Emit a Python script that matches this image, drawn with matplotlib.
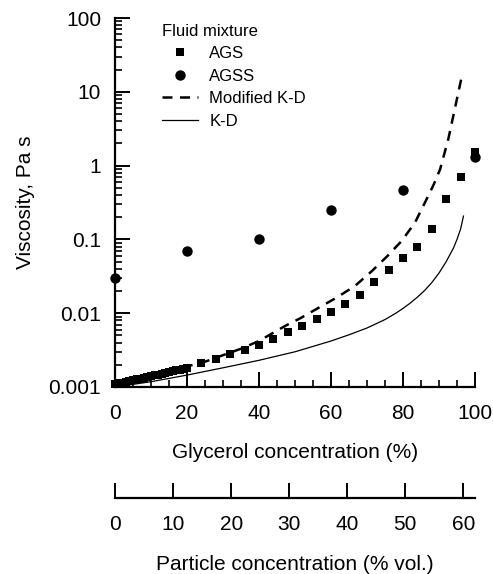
import numpy as np
import matplotlib
matplotlib.use("Agg")
import matplotlib.pyplot as plt
from matplotlib.ticker import MultipleLocator, LogLocator, NullFormatter, FixedFormatter, FixedLocator

plt.rcParams["font.family"] = ["Liberation Sans", "DejaVu Sans"]

# AGS (squares)
ags_x = list(range(0, 21)) + [24, 28, 32, 36, 40, 44, 48, 52, 56, 60, 64, 68, 72, 76, 80, 84, 88, 92, 96, 100]
ags_y = [0.00110, 0.00113, 0.00115, 0.00118, 0.00121, 0.00124, 0.00127, 0.00130, 0.00133, 0.00137,
         0.00140, 0.00144, 0.00147, 0.00151, 0.00155, 0.00159, 0.00163, 0.00168, 0.00172, 0.00177,
         0.00182,
         0.00212, 0.00240, 0.00277, 0.00318, 0.0037, 0.0045, 0.0055, 0.0067, 0.0084, 0.0105,
         0.0132, 0.0177, 0.0265, 0.0385, 0.0565, 0.079, 0.137, 0.355, 0.70, 1.55]

# AGSS (circles)
agss_x = [0, 20, 40, 60, 80, 100]
agss_y = [0.030, 0.069, 0.100, 0.249, 0.474, 1.29]

# Modified K-D (dashed)
mkd_x = [0, 10, 20, 25, 30, 35, 40, 43, 47.7, 51.4, 56.9, 61.6, 66.7, 71.3, 75.6, 79.6, 83.3,
         86.1, 88.5, 90.3, 92.6, 94.4, 96.3]
mkd_y = [0.00108, 0.0014, 0.0019, 0.0022, 0.0027, 0.0033, 0.0042, 0.0051, 0.0069, 0.0085, 0.0121,
         0.0163, 0.0235, 0.037, 0.059, 0.095, 0.168, 0.316, 0.55, 0.89, 2.3, 5.9, 15.9]

# K-D (solid)
kd_x = [0, 10, 20, 30, 40, 50, 60, 65, 70, 75, 78, 80, 82, 84, 86, 88, 90, 92, 94, 95, 96, 96.8]
kd_y = [0.0010, 0.00118, 0.00145, 0.00182, 0.0023, 0.0030, 0.0042, 0.0051, 0.0063, 0.0082,
        0.0100, 0.0116, 0.0137, 0.0165, 0.0203, 0.026, 0.035, 0.050, 0.076, 0.100, 0.138, 0.207]

gly_ticks = [0, 20, 40, 60, 80, 100]
part_ticks = [0, 10, 20, 30, 40, 50, 60]
y_ticks = [0.001, 0.01, 0.1, 1, 10, 100]
y_labels = ["0.001", "0.01", "0.1", "1", "10", "100"]

W, H = 493, 574
fig = plt.figure(figsize=(W / 100, H / 100), dpi=100)
ax = fig.add_axes([115 / W, 1 - 387 / H, 360 / W, 369 / H])

ax.plot(ags_x, ags_y, "s", color="black", ms=6, mew=0, label="AGS", clip_on=False, zorder=3)
ax.plot(agss_x, agss_y, "o", color="black", ms=7.5, mew=0, label="AGSS", clip_on=False, zorder=3)
ax.plot(mkd_x, mkd_y, color="black", lw=1.8, dashes=(4, 3), label="Modified K-D")
ax.plot(kd_x, kd_y, color="black", lw=0.9, label="K-D")

ax.set_yscale("log")
ax.set_ylim(0.001, 100)
ax.set_xlim(0, 100)
ax.yaxis.set_major_locator(FixedLocator(y_ticks))
ax.yaxis.set_major_formatter(FixedFormatter(y_labels))
ax.yaxis.set_minor_locator(LogLocator(base=10, subs=np.arange(2, 10)))
ax.yaxis.set_minor_formatter(NullFormatter())
ax.xaxis.set_major_locator(FixedLocator(gly_ticks))
ax.xaxis.set_minor_locator(MultipleLocator(5))

for s in ("top", "right"):
    ax.spines[s].set_visible(False)
for s in ("left", "bottom"):
    ax.spines[s].set_linewidth(1.6)
ax.tick_params(which="major", direction="in", length=10.5, width=1.4, labelsize=15)
ax.tick_params(which="minor", direction="in", length=5, width=1.2)
ax.tick_params(axis="x", which="major", pad=12)
ax.tick_params(axis="y", which="major", pad=10)

ax.set_ylabel("Viscosity, Pa s", fontsize=15, labelpad=10)
ax.set_xlabel("Glycerol concentration (%)", fontsize=15, labelpad=15)

leg = ax.legend(title="Fluid mixture", loc="upper left", bbox_to_anchor=(0.13, 0.985),
                frameon=False, fontsize=12, title_fontsize=12, alignment="left",
                handlelength=2.2, handletextpad=0.65, labelspacing=0.45,
                borderpad=0, borderaxespad=0)

# particle concentration axis
ax2 = fig.add_axes([115 / W, 1 - 498 / H, 360 / W, 0.001])
ax2.set_xlim(0, 62)
ax2.set_ylim(0, 1)
ax2.set_yticks([])
ax2.xaxis.set_major_locator(FixedLocator(part_ticks))
for s in ("top", "right", "left"):
    ax2.spines[s].set_visible(False)
ax2.spines["bottom"].set_linewidth(1.6)
ax2.tick_params(axis="x", direction="in", length=10.5, width=1.4, labelsize=15, pad=12)
ax2.set_xlabel("Particle concentration (% vol.)", fontsize=15, labelpad=15)
ax2.patch.set_visible(False)

fig.savefig("out.png", dpi=100)
